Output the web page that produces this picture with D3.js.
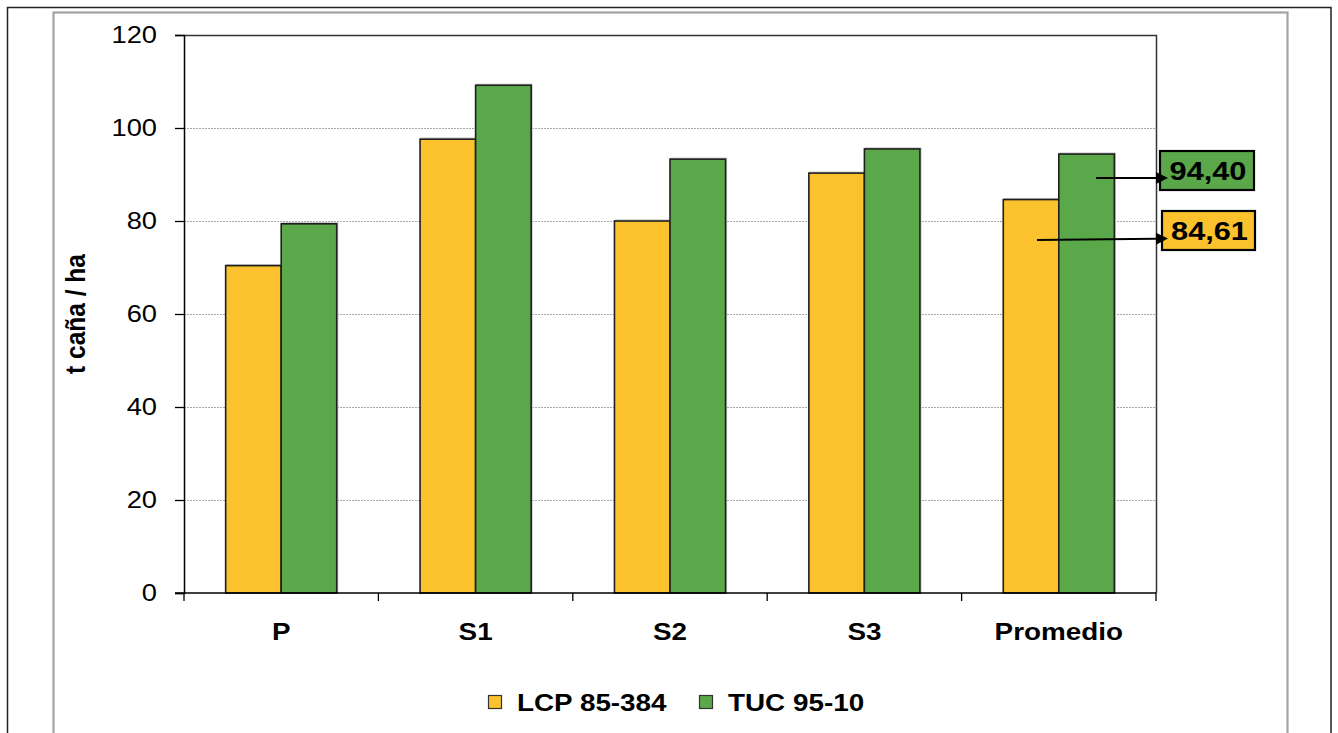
<!DOCTYPE html>
<html>
<head>
<meta charset="utf-8">
<script src="https://cdn.jsdelivr.net/npm/d3@7"></script>
<style>
  html, body { margin: 0; padding: 0; background: #fff; }
  svg { display: block; font-family: "Liberation Sans", Arial, sans-serif; }
</style>
</head>
<body>
<svg id="chart" width="1338" height="733"></svg>
<script>
// Rendimiento cultural (t caña / ha) por edad de cepa
const categories = ["P", "S1", "S2", "S3", "Promedio"];
const seriesNames = ["LCP 85-384", "TUC 95-10"];
const lcpValues = [70.4, 97.6, 80.0, 90.3, 84.61];
const tucValues = [79.4, 109.2, 93.3, 95.5, 94.40];
const yTicks = [0, 20, 40, 60, 80, 100, 120];
const seriesColors = ["#FCC22E", "#5BA84A"];

const series = [lcpValues, tucValues];
const svg = d3.select("#chart");
const SX = 1.16; // horizontal stretch applied to text

const plot = { left: 184, right: 1156, top: 35, bottom: 593 };

const x = d3.scaleBand()
  .domain(categories)
  .range([plot.left, plot.right])
  .paddingInner(0.4286)
  .paddingOuter(0.2143);

const xSub = d3.scaleBand()
  .domain(d3.range(seriesNames.length))
  .range([0, x.bandwidth()]);

const y = d3.scaleLinear().domain([0, 120]).range([plot.bottom, plot.top]);

function stretchedText(g, tx, ty, str, opts) {
  const t = g.append("text")
    .attr("transform", `translate(${tx},${ty}) ${opts.rotate ? "rotate(-90) scale(1," + SX + ")" : "scale(" + SX + ",1)"}`)
    .attr("text-anchor", opts.anchor || "middle")
    .attr("font-size", opts.size)
    .attr("font-weight", opts.bold ? "bold" : "normal")
    .attr("fill", "#000")
    .text(str);
  if (opts.dy) t.attr("dy", opts.dy);
  return t;
}

// Frames
svg.append("rect").attr("x", 7.5).attr("y", 7.5).attr("width", 1323.5).attr("height", 740)
  .attr("fill", "none").attr("stroke", "#222").attr("stroke-width", 1.5);
svg.append("rect").attr("x", 53.5).attr("y", 12.5).attr("width", 1234).attr("height", 740)
  .attr("fill", "none").attr("stroke", "#a3a3a3").attr("stroke-width", 2.2);

// Gridlines
svg.append("g").selectAll("line")
  .data(yTicks.filter(d => d > 0 && d < 120))
  .join("line")
  .attr("x1", plot.left).attr("x2", plot.right)
  .attr("y1", d => Math.round(y(d)) + 0.5).attr("y2", d => Math.round(y(d)) + 0.5)
  .attr("stroke", "#a8a8a8").attr("stroke-width", 1).attr("stroke-dasharray", "2,1");

// Plot border (top and right)
svg.append("path")
  .attr("d", `M${plot.left},${plot.top + 0.5}H${plot.right + 0.5}V${plot.bottom}`)
  .attr("fill", "none").attr("stroke", "#333").attr("stroke-width", 1.5);

// Bars
const groups = svg.append("g").selectAll("g")
  .data(series)
  .join("g")
  .attr("fill", (d, i) => seriesColors[i]);

groups.each(function (vals, si) {
  const g = d3.select(this);
  // soft shadow on the right edge
  g.selectAll("rect.sh").data(vals).join("rect").attr("class", "sh")
    .attr("x", (d, i) => x(categories[i]) + xSub(si) + 1)
    .attr("y", d => y(d) - 1)
    .attr("width", xSub.bandwidth())
    .attr("height", d => plot.bottom - y(d) + 1)
    .attr("fill", "none").attr("stroke", "#c4c4c4").attr("stroke-width", 1.2);
  g.selectAll("rect.bar").data(vals).join("rect").attr("class", "bar")
    .attr("x", (d, i) => x(categories[i]) + xSub(si))
    .attr("y", d => y(d))
    .attr("width", xSub.bandwidth())
    .attr("height", d => plot.bottom - y(d))
    .attr("stroke", "#1e1e1e").attr("stroke-width", 1.6);
});

// Y axis
const yAxis = svg.append("g").attr("transform", `translate(${plot.left},0)`)
  .call(d3.axisLeft(y).tickValues(yTicks).tickSize(9).tickFormat(""));
yAxis.select(".domain").attr("stroke", "#000").attr("stroke-width", 1.5);
yAxis.selectAll(".tick line").attr("stroke", "#000").attr("stroke-width", 1.3);
const yLab = svg.append("g");
yTicks.forEach(v => stretchedText(yLab, 157, y(v), String(v), { size: 23.5, anchor: "end", dy: "0.35em" }));

// X axis
const bounds = categories.map(c => x(c) - x.step() * 0.2143).concat([plot.right]);
svg.append("line").attr("x1", 175).attr("x2", plot.right).attr("y1", plot.bottom).attr("y2", plot.bottom)
  .attr("stroke", "#000").attr("stroke-width", 1.5);
svg.append("g").selectAll("line").data(bounds).join("line")
  .attr("x1", d => d).attr("x2", d => d)
  .attr("y1", plot.bottom).attr("y2", plot.bottom + 8)
  .attr("stroke", "#000").attr("stroke-width", 1.3);
const xLab = svg.append("g");
categories.forEach(c => stretchedText(xLab, x(c) + x.bandwidth() / 2, 639.5, c, { size: 24, bold: true }));

// Y title
stretchedText(svg.append("g"), 85, (plot.top + plot.bottom) / 2, "t caña / ha", { size: 24.5, bold: true, rotate: true });

// Value callouts for the average
const callouts = [
  { value: tucValues[4], series: 1, from: [1096, 178], to: [1168, 178], box: [1160, 151, 94, 39] },
  { value: lcpValues[4], series: 0, from: [1037, 240], to: [1168, 238.5], box: [1162, 211, 93, 39] }
];
const fmt = v => v.toFixed(2).replace(".", ",");
const cg = svg.append("g");
callouts.forEach(c => {
  cg.append("rect")
    .attr("x", c.box[0]).attr("y", c.box[1]).attr("width", c.box[2]).attr("height", c.box[3])
    .attr("fill", seriesColors[c.series]).attr("stroke", "#000").attr("stroke-width", 2.2);
  stretchedText(cg, c.box[0] + c.box[2] / 2 + 1, c.box[1] + c.box[3] / 2, fmt(c.value), { size: 26.5, bold: true, dy: "0.36em" });
  const ang = Math.atan2(c.to[1] - c.from[1], c.to[0] - c.from[0]);
  const hl = 12, hw = 6;
  const bx = c.to[0] - hl * Math.cos(ang), by = c.to[1] - hl * Math.sin(ang);
  cg.append("line").attr("x1", c.from[0]).attr("y1", c.from[1]).attr("x2", bx).attr("y2", by)
    .attr("stroke", "#000").attr("stroke-width", 2);
  cg.append("path")
    .attr("d", `M${c.to[0]},${c.to[1]}L${bx - hw * Math.sin(ang)},${by + hw * Math.cos(ang)}L${bx + hw * Math.sin(ang)},${by - hw * Math.cos(ang)}Z`)
    .attr("fill", "#000");
});

// Legend
const legend = svg.append("g");
const legendX = [488, 699];
seriesNames.forEach((name, i) => {
  legend.append("rect").attr("x", legendX[i] + 0.5).attr("y", 695.5).attr("width", 13).attr("height", 13)
    .attr("fill", seriesColors[i]).attr("stroke", "#333").attr("stroke-width", 1.2);
  stretchedText(legend, legendX[i] + 29, 710.5, name, { size: 24, bold: true, anchor: "start" });
});
</script>
</body>
</html>
